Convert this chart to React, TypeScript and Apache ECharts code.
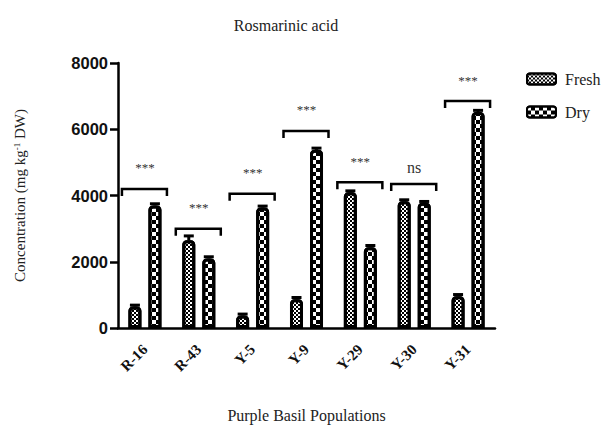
import React, { useEffect, useRef } from "react";
import * as echarts from "echarts";

const categories = ["R-16", "R-43", "Y-5", "Y-9", "Y-29", "Y-30", "Y-31"];
const freshValues = [650, 2650, 380, 870, 4100, 3830, 960];
const dryValues = [3700, 2100, 3640, 5380, 2440, 3780, 6520];
const freshErr = [40, 130, 40, 50, 40, 40, 50];
const dryErr = [50, 50, 40, 50, 50, 40, 50];
const bracketValues = [4200, 3000, 4050, 5950, 4400, 4350, 6850];
const bracketLabels = ["***", "***", "***", "***", "***", "ns", "***"];
const yTicks = [0, 2000, 4000, 6000, 8000];

const SERIF = "'Liberation Serif', 'Times New Roman', serif";
const SANS = "'Liberation Sans', Arial, sans-serif";

const freshDecal = {
  symbol: "rect",
  symbolSize: 1,
  color: "#000",
  dashArrayX: [[2, 2], [0, 2, 2, 0]],
  dashArrayY: [2, 0],
  rotation: 0,
};
const dryDecal = {
  symbol: "rect",
  symbolSize: 1,
  color: "#000",
  dashArrayX: [[4, 4], [0, 4, 4, 0]],
  dashArrayY: [4, 0],
  rotation: 0,
};

function errorSeries(name: string, values: number[], errs: number[], offset: number) {
  return {
    type: "custom",
    name: name + "-err",
    silent: true,
    z: 5,
    itemStyle: { color: "#000" },
    data: values.map((v, i) => [i, v, errs[i]]),
    renderItem: (params: any, api: any) => {
      const base = api.coord([api.value(0), api.value(1)]);
      const top = api.coord([api.value(0), api.value(1) + api.value(2)]);
      const x = base[0] + offset;
      return {
        type: "group",
        children: [
          {
            type: "line",
            shape: { x1: x, y1: base[1], x2: x, y2: top[1] },
            style: { stroke: "#000", lineWidth: 3 },
          },
          {
            type: "line",
            shape: { x1: x - 5, y1: top[1], x2: x + 5, y2: top[1] },
            style: { stroke: "#000", lineWidth: 3 },
          },
        ],
      };
    },
  };
}

export default function App() {
  const ref = useRef<HTMLDivElement>(null);
  useEffect(() => {
    if (!ref.current) return;
    const chart = echarts.init(ref.current, null, { renderer: "svg" });
    const option: any = {
      animation: false,
      backgroundColor: "#fff",
      title: {
        text: "Rosmarinic acid",
        left: 281,
        top: 12,
        textAlign: "center",
        textStyle: { fontFamily: SERIF, fontSize: 16, fontWeight: "normal", color: "#222" },
      },
      legend: {
        orient: "vertical",
        left: 521,
        top: 66,
        itemWidth: 29,
        itemHeight: 11,
        itemGap: 17,
        icon: "roundRect",
        data: ["Fresh", "Dry"],
        textStyle: { fontFamily: SERIF, fontSize: 16, color: "#222", padding: [0, 0, 0, 4] },
      },
      grid: { left: 118, right: 108, top: 63, bottom: 91 },
      xAxis: {
        type: "category",
        data: categories,
        name: "Purple Basil Populations",
        nameLocation: "middle",
        nameGap: 79,
        nameTextStyle: { fontFamily: SERIF, fontSize: 16, color: "#222" },
        axisLine: { lineStyle: { color: "#000", width: 2.5 } },
        axisTick: { alignWithLabel: true, length: 7, lineStyle: { color: "#000", width: 2.5 } },
        axisLabel: {
          rotate: 45,
          margin: 19,
          fontFamily: SERIF,
          fontSize: 15,
          fontWeight: "bold",
          color: "#111",
        },
      },
      yAxis: {
        type: "value",
        min: yTicks[0],
        max: yTicks[yTicks.length - 1],
        interval: 2000,
        name: "{a|Concentration (mg kg}{s|-1}{a| DW)}",
        nameLocation: "middle",
        nameGap: 90,
        nameTextStyle: {
          rich: {
            a: { fontFamily: SERIF, fontSize: 15, color: "#222" },
            s: { fontFamily: SERIF, fontSize: 9, color: "#222", verticalAlign: "top", padding: [0, 0, 7, 0] },
          },
        },
        splitLine: { show: false },
        axisLine: { show: true, lineStyle: { color: "#000", width: 2.5 } },
        axisTick: { show: true, length: 8, lineStyle: { color: "#000", width: 2.5 } },
        axisLabel: {
          margin: 10,
          fontFamily: SANS,
          fontSize: 16.5,
          fontWeight: "bold",
          color: "#111",
          formatter: (v: number) => String(v),
        },
      },
      series: [
        {
          type: "bar",
          name: "Fresh",
          data: freshValues,
          barWidth: 13,
          barGap: "54%",
          itemStyle: {
            color: "#fff",
            borderColor: "#000",
            borderWidth: 3,
            borderRadius: [3, 3, 0, 0],
            decal: freshDecal,
          },
        },
        {
          type: "bar",
          name: "Dry",
          data: dryValues,
          barWidth: 13,
          barGap: "54%",
          itemStyle: {
            color: "#fff",
            borderColor: "#000",
            borderWidth: 3,
            borderRadius: [3, 3, 0, 0],
            decal: dryDecal,
          },
        },
        errorSeries("Fresh", freshValues, freshErr, -10),
        errorSeries("Dry", dryValues, dryErr, 10),
        {
          type: "custom",
          name: "brackets",
          silent: true,
          z: 6,
          itemStyle: { color: "#000" },
          data: bracketValues.map((v, i) => [i, v]),
          renderItem: (params: any, api: any) => {
            const idx = params.dataIndex;
            const p = api.coord([api.value(0), api.value(1)]);
            const x0 = p[0] - 23;
            const x1 = p[0] + 22;
            const y = p[1];
            const label = bracketLabels[idx];
            const isNs = label === "ns";
            return {
              type: "group",
              children: [
                {
                  type: "polyline",
                  shape: { points: [[x0, y + 7], [x0, y], [x1, y], [x1, y + 7]] },
                  style: { stroke: "#000", lineWidth: 2.5, fill: null },
                },
                {
                  type: "text",
                  x: p[0],
                  y: y - (isNs ? 16 : 21),
                  style: {
                    text: label,
                    font: (isNs ? "16px " : "13px ") + SERIF,
                    fill: "#333",
                    stroke: null,
                    align: "center",
                    verticalAlign: "middle",
                  },
                },
              ],
            };
          },
        },
      ],
    };
    chart.setOption(option);
    return () => chart.dispose();
  }, []);
  return (
    <div
      ref={ref}
      style={{ position: "absolute", left: 0, top: 0, width: 603, height: 428 }}
    />
  );
}
